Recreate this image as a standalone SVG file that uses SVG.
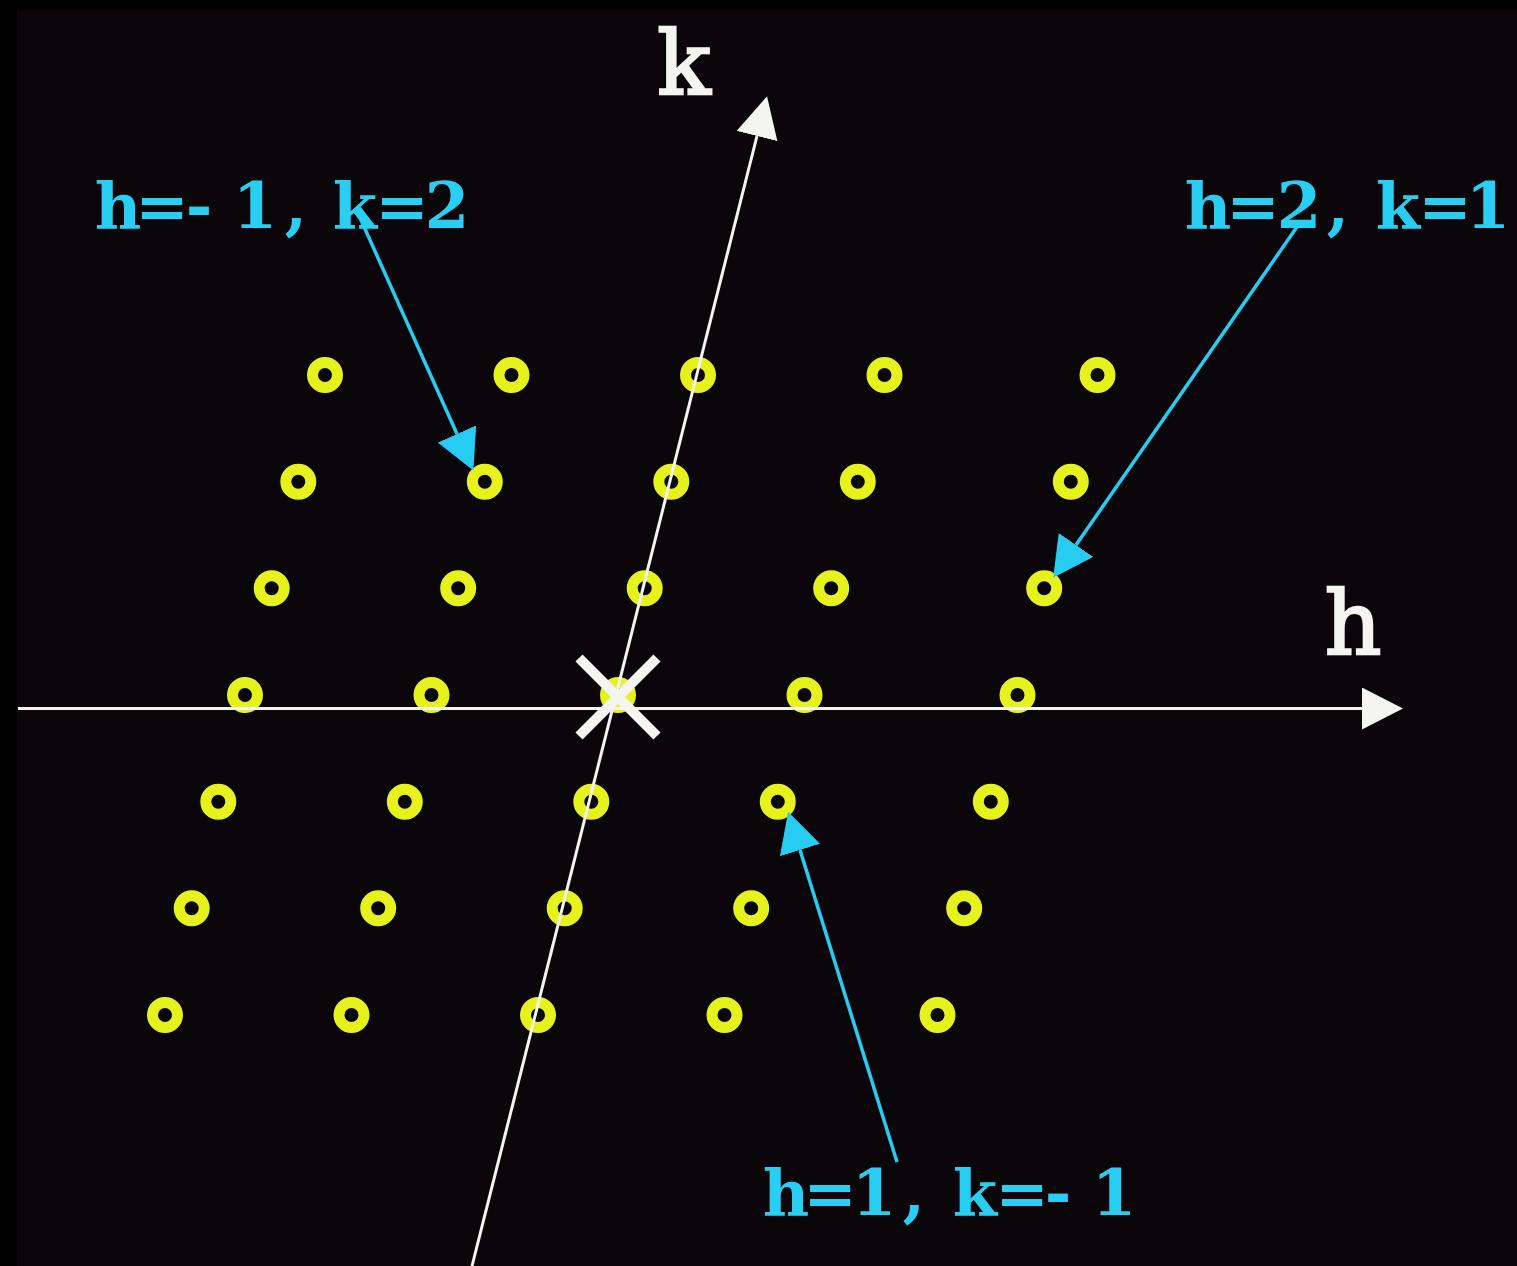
<svg xmlns="http://www.w3.org/2000/svg" width="1517" height="1266" viewBox="0 0 1517 1266">
<style>
.spot{fill:none;stroke:#e6f21c;stroke-width:11}
.axis{stroke:#f4f4f0;stroke-width:3;fill:none}
.ptr{stroke:#27ccf2;stroke-width:3.5;fill:none}
.lbl{font-family:"DejaVu Serif","Liberation Serif",serif;font-weight:bold;font-size:64px;fill:#29cff2;text-anchor:middle}
.ax{font-family:"DejaVu Serif","Liberation Serif",serif;font-size:88px;fill:#f4f4f0;stroke:#f4f4f0;stroke-width:2.5;text-anchor:middle}
</style>
<defs>
<marker id="wh" markerUnits="userSpaceOnUse" viewBox="0 -21 41 42" markerWidth="41" markerHeight="42" refX="0" refY="0" orient="auto"><path d="M0,-21 L41,0 L0,21 z" fill="#f4f4f0"/></marker>
<marker id="cy" markerUnits="userSpaceOnUse" viewBox="0 -21 40 42" markerWidth="40" markerHeight="42" refX="0" refY="0" orient="auto"><path d="M0,-21 L40,0 L0,21 z" fill="#27ccf2"/></marker>
</defs>
<rect width="1517" height="1266" fill="#000"/>
<rect x="17" y="10" width="1500" height="1256" fill="#0a0609"/>
<g id="lattice">
<circle id="p0_0" class="spot" cx="325" cy="375" r="12.5"/>
<circle id="p0_1" class="spot" cx="511.5" cy="375" r="12.5"/>
<circle id="p0_2" class="spot" cx="698" cy="375" r="12.5"/>
<circle id="p0_3" class="spot" cx="884.5" cy="375" r="12.5"/>
<circle id="p0_4" class="spot" cx="1097.5" cy="375" r="12.5"/>
<circle id="p1_0" class="spot" cx="298.3" cy="481.7" r="12.5"/>
<circle id="p1_1" class="spot" cx="484.8" cy="481.7" r="12.5"/>
<circle id="p1_2" class="spot" cx="671.3" cy="481.7" r="12.5"/>
<circle id="p1_3" class="spot" cx="857.8" cy="481.7" r="12.5"/>
<circle id="p1_4" class="spot" cx="1070.8" cy="481.7" r="12.5"/>
<circle id="p2_0" class="spot" cx="271.7" cy="588.3" r="12.5"/>
<circle id="p2_1" class="spot" cx="458.2" cy="588.3" r="12.5"/>
<circle id="p2_2" class="spot" cx="644.7" cy="588.3" r="12.5"/>
<circle id="p2_3" class="spot" cx="831.2" cy="588.3" r="12.5"/>
<circle id="p2_4" class="spot" cx="1044.2" cy="588.3" r="12.5"/>
<circle id="p3_0" class="spot" cx="245" cy="695" r="12.5"/>
<circle id="p3_1" class="spot" cx="431.5" cy="695" r="12.5"/>
<circle id="p3_2" class="spot" cx="618" cy="695" r="12.5"/>
<circle id="p3_3" class="spot" cx="804.5" cy="695" r="12.5"/>
<circle id="p3_4" class="spot" cx="1017.5" cy="695" r="12.5"/>
<circle id="p4_0" class="spot" cx="218.3" cy="801.7" r="12.5"/>
<circle id="p4_1" class="spot" cx="404.8" cy="801.7" r="12.5"/>
<circle id="p4_2" class="spot" cx="591.3" cy="801.7" r="12.5"/>
<circle id="p4_3" class="spot" cx="777.8" cy="801.7" r="12.5"/>
<circle id="p4_4" class="spot" cx="990.8" cy="801.7" r="12.5"/>
<circle id="p5_0" class="spot" cx="191.7" cy="908.3" r="12.5"/>
<circle id="p5_1" class="spot" cx="378.2" cy="908.3" r="12.5"/>
<circle id="p5_2" class="spot" cx="564.7" cy="908.3" r="12.5"/>
<circle id="p5_3" class="spot" cx="751.2" cy="908.3" r="12.5"/>
<circle id="p5_4" class="spot" cx="964.2" cy="908.3" r="12.5"/>
<circle id="p6_0" class="spot" cx="165" cy="1015" r="12.5"/>
<circle id="p6_1" class="spot" cx="351.5" cy="1015" r="12.5"/>
<circle id="p6_2" class="spot" cx="538" cy="1015" r="12.5"/>
<circle id="p6_3" class="spot" cx="724.5" cy="1015" r="12.5"/>
<circle id="p6_4" class="spot" cx="937.5" cy="1015" r="12.5"/>
</g>
<g id="axes">
<line class="axis" x1="18" y1="708.5" x2="1362" y2="708.5" marker-end="url(#wh)"/>
<line class="axis" x1="472" y1="1266" x2="757" y2="136" marker-end="url(#wh)"/>
</g>
<g id="origin">
<path d="M579,658 L657,736 M657,658 L579,736" stroke="#f4f4f0" stroke-width="10" fill="none"/>
</g>
<g id="axis-labels">
<text id="label-k" class="ax" x="684" y="94">k</text>
<text id="label-h" class="ax" x="1353" y="654">h</text>
</g>
<g id="connectors">
<line class="ptr" x1="361" y1="220" x2="457" y2="434" marker-end="url(#cy)"/>
<line class="ptr" x1="1299" y1="224" x2="1076" y2="545" marker-end="url(#cy)"/>
<line class="ptr" x1="897" y1="1162" x2="800" y2="850" marker-end="url(#cy)"/>
</g>
<g id="label-m1-2"><text class="lbl" x="118 162 199 255 296 325 355 402 447" y="228">h=-1, k=2</text></g>
<g id="label-2-1"><text class="lbl" x="1208 1253 1299 1338 1368 1398 1445 1488" y="228">h=2, k=1</text></g>
<g id="label-1-m1"><text class="lbl" x="786 830 874 914 945 975 1022 1058 1114" y="1215">h=1, k=-1</text></g>
</svg>
